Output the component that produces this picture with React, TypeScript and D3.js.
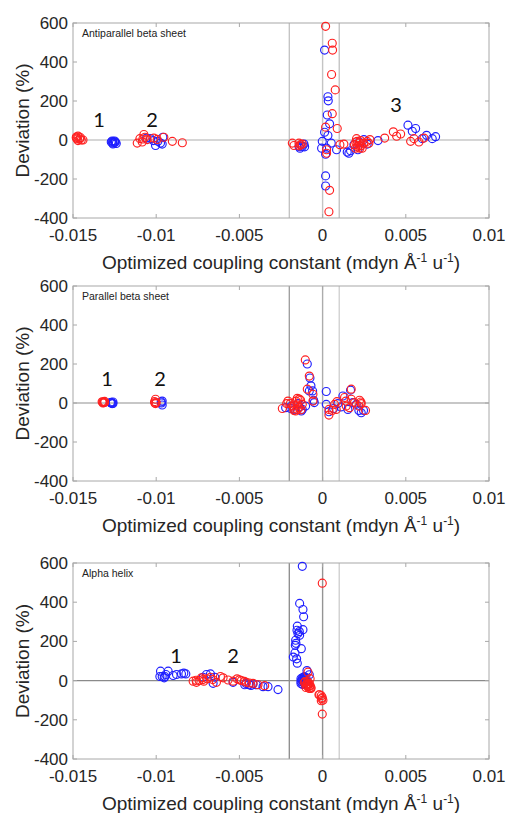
import * as d3 from "d3";

// Optimized coupling constant vs. deviation, three secondary structures
type Pt = [number, number];

const X_TICKS = [-0.015, -0.01, -0.005, 0, 0.005, 0.01];
const X_TICK_LABELS = ["-0.015", "-0.01", "-0.005", "0", "0.005", "0.01"];
const Y_TICKS = [-400, -200, 0, 200, 400, 600];
const REF_LINES = [-0.002, 0, 0.001];

const TITLES = ["Antiparallel beta sheet", "Parallel beta sheet", "Alpha helix"];

// cluster labels [x, y, text] in data units
const antiLabels: [number, number, string][] = [
  [-0.01344, 103, "1"], [-0.01025, 103, "2"], [0.00441, 179, "3"],
];
const parLabels: [number, number, string][] = [
  [-0.01296, 123, "1"], [-0.00977, 123, "2"],
];
const helixLabels: [number, number, string][] = [
  [-0.00881, 126, "1"], [-0.00538, 126, "2"],
];

const antiRed: Pt[] = [
  [-0.0148, 10], [-0.0147, 20], [-0.0146, 5], [-0.0145, 0], [-0.0144, 0], [-0.0147, -3], [-0.0148, 15],
  [-0.01475, 5], [-0.01455, 12],
  [-0.01114, -16], [-0.01098, 7], [-0.01074, 28], [-0.01068, 14], [-0.01054, 2], [-0.01014, 10],
  [-0.00994, 3], [-0.00954, 14], [-0.00903, -7], [-0.00843, -14], [-0.01084, -10], [-0.0108, 5],
  [-0.00182, -16], [-0.00172, -28], [-0.00142, -16], [-0.00132, -24], [-0.00122, -21], [-0.0014, -30],
  [0.00018, 583], [0.00058, 496], [0.0006, 461], [0.00054, 336], [0.00076, 257], [0.00058, 135],
  [0.00018, 66], [0.00088, 59], [0.00042, -258], [0.00038, -368], [0.00024, -50], [0.00024, -68],
  [0.00104, -24], [0.00128, -21], [0.00198, -42], [0.00208, -7], [0.00218, -28], [0.00228, -3],
  [0.00238, -42], [0.00248, -16], [0.00268, -7], [0.00284, 2], [0.00278, -17], [0.00204, 7],
  [0.00224, -42], [0.00192, -24], [0.0021, -35], [0.0022, -15], [0.0023, -30], [0.0020, -10],
  [0.00373, 10], [0.00425, 42], [0.00445, 19], [0.00469, 31], [0.00529, -7], [0.00549, 7],
  [0.00579, -10], [0.00609, 10],
];
const antiBlue: Pt[] = [
  [-0.0127, -10], [-0.0126, -15], [-0.0125, -5], [-0.0124, -18], [-0.0126, -20], [-0.0125, -12],
  [-0.01265, -5], [-0.01245, -10], [-0.0126, -8],
  [-0.01058, 10], [-0.01034, 7], [-0.01004, -28], [-0.00974, -16], [-0.0096, 14], [-0.00964, -21],
  [-0.0099, -7], [-0.01018, -3],
  [-0.00136, -42], [-0.00122, -33], [-0.00108, -35], [-0.00112, -21], [-0.00142, -33],
  [0.00012, 461], [0.00032, 222], [0.00034, 201], [0.00028, 128], [0.00042, 83], [0.00012, 40],
  [0.00032, 23], [-0.00002, -7], [-0.00006, -42], [0.00018, -73], [0.00018, -184], [0.00018, -236],
  [0.00052, -16], [0.00024, -42],
  [0.00084, -50], [0.00148, -62], [0.00168, -55], [0.00188, -24], [0.00212, -50], [0.00248, 2],
  [0.00268, -21], [0.00333, -3], [0.00158, -68], [0.0022, -10],
  [0.00513, 76], [0.00539, 45], [0.00559, 59], [0.00625, 24], [0.00659, 7], [0.00679, 17], [0.00599, 7],
];

const parRed: Pt[] = [
  [-0.0132, 5], [-0.0131, 3], [-0.0132, 0], [-0.0131, 8], [-0.01315, 2], [-0.01325, 6],
  [-0.01004, 19], [-0.01004, -3], [-0.0101, 7], [-0.01, 2], [-0.01008, 0],
  [-0.00242, -28], [-0.00216, -3], [-0.00208, 10], [-0.00172, -28], [-0.00152, 24], [-0.00142, -24],
  [-0.00132, 14], [-0.00122, -7], [-0.00172, -38], [-0.00162, -41], [-0.00152, -33], [-0.00104, 221],
  [-0.0008, 138], [-0.00092, 71], [-0.00058, 45], [-0.00058, 10], [-0.00194, -3],
  [-0.0016, 10], [-0.0014, 20], [-0.0018, -15], [-0.0015, -10], [-0.0013, -35],
  [0.00038, -33], [0.00038, -62], [0.00072, -7], [0.00086, 7], [0.00132, 28], [0.00142, -16],
  [0.00172, 71], [0.00172, 19], [0.00192, 2], [0.00222, 14], [0.00232, -3], [0.00258, -38],
  [0.00218, -16], [0.00162, -24], [0.00082, -33], [0.00058, -38], [0.0014, 10], [0.0023, 5],
];
const parBlue: Pt[] = [
  [-0.0127, 0], [-0.0126, -2], [-0.0127, 3], [-0.0126, 5], [-0.01265, -3], [-0.01275, 2],
  [-0.00964, 10], [-0.00964, -10], [-0.00968, 0], [-0.0097, 5],
  [-0.00222, -24], [-0.00192, -28], [-0.00092, 200], [-0.00076, 128], [-0.0007, 88], [-0.0006, 62],
  [-0.0008, 62], [-0.0005, 2], [-0.00054, 14], [-0.00128, -41], [-0.00148, -3], [-0.00122, -33],
  [-0.00188, -16], [-0.00102, -16], [-0.0017, -35], [-0.0014, -20],
  [0.00022, 59], [0.00022, -7], [0.00038, -45], [0.00066, -28], [0.00092, -3], [0.00122, 36],
  [0.00168, 66], [0.00152, -33], [0.00202, -7], [0.00218, -38], [0.00232, -50], [0.00246, -38],
  [0.00182, 2], [0.0011, -20],
];

const helixRed: Pt[] = [
  [-0.00778, -3], [-0.00758, -9], [-0.00742, 0], [-0.00728, 14], [-0.00714, -3], [-0.00694, 9],
  [-0.00674, 17], [-0.00638, -9], [-0.00614, 21], [-0.00598, 14], [-0.00568, 3], [-0.00514, 9],
  [-0.00488, 0], [-0.00458, -9], [-0.00418, -14], [-0.00388, -21], [-0.00348, -26], [-0.00538, -3],
  [-0.0076, 2], [-0.0072, 5], [-0.0066, 5], [-0.005, 4], [-0.0047, -4], [-0.0044, -12],
  [-0.0011, -10], [-0.001, -20], [-0.0009, -30], [-0.0008, -40], [-0.0007, -35], [-0.0009, -5],
  [-0.001, -35], [-0.0008, -15], [-0.00075, 10], [-0.00088, 43], [-0.00095, -25], [-0.00085, -20],
  [-0.0008, -30], [-0.0009, -15], [-0.00105, -5], [-0.00075, -25], [-0.0007, -40],
  [-0.00022, -72], [-0.00008, -77], [-0.00002, -86], [0.00002, -100], [-0.00008, -103],
  [-0.00002, 497], [-0.00002, -171], [-0.00018, -72], [-0.00005, -92],
];
const helixBlue: Pt[] = [
  [-0.00974, 48], [-0.00964, 21], [-0.00948, 21], [-0.00928, 48], [-0.00942, 31], [-0.00898, 26],
  [-0.00878, 31], [-0.00848, 34], [-0.00834, 38], [-0.00822, 34], [-0.00978, 21], [-0.00952, 14],
  [-0.00698, 31], [-0.00674, 34], [-0.00648, 17], [-0.00658, -14], [-0.00538, -9], [-0.00468, -21],
  [-0.00442, -21], [-0.00398, -21], [-0.00358, -31], [-0.00328, -31], [-0.00268, -46], [-0.00718, 17],
  [-0.00418, -17], [-0.0046, -15], [-0.0043, -25],
  [-0.00122, 583], [-0.00138, 394], [-0.00118, 363], [-0.00114, 326], [-0.00118, 260], [-0.00154, 257],
  [-0.00138, 231], [-0.00162, 206], [-0.00164, 180], [-0.00128, 163], [-0.00166, 141], [-0.00176, 120],
  [-0.00156, 111], [-0.00152, 89], [-0.00148, 240], [-0.00152, 278], [-0.0014, 250], [-0.0016, 190],
  [-0.0012, 0], [-0.0011, 10], [-0.00115, -10], [-0.0013, -5], [-0.001, 15], [-0.0012, -20],
  [-0.00105, 5], [-0.0011, -15], [-0.0013, 10], [-0.00094, 51], [-0.0008, 30], [-0.00125, 5],
  [-0.0012, 15], [-0.0013, -15], [-0.00105, -5], [-0.0011, 20],
];

const LEFT = 73;
const RIGHT = 489;

const PANELS = [
  { top: 23, h: 195, title: TITLES[0], red: antiRed, blue: antiBlue, labels: antiLabels,
    refColors: ["#c4c4c4", "#c4c4c4", "#c4c4c4"], zeroColor: "#c8c8c8" },
  { top: 286, h: 195, title: TITLES[1], red: parRed, blue: parBlue, labels: parLabels,
    refColors: ["#a0a0a0", "#acacac", "#d2d2d2"], zeroColor: "#b4b4b4" },
  { top: 563, h: 196, title: TITLES[2], red: helixRed, blue: helixBlue, labels: helixLabels,
    refColors: ["#909090", "#949494", "#d0d0d0"], zeroColor: "#8a8a8a" },
];

const AXIS_FONT = "'Liberation Sans', Arial, sans-serif";

function Panel({ p }: { p: typeof PANELS[number] }) {
  const x = d3.scaleLinear().domain([-0.015, 0.01]).range([LEFT, RIGHT]);
  const y = d3.scaleLinear().domain([-400, 600]).range([p.top + p.h, p.top]);
  const bottom = p.top + p.h;

  return (
    <g>
      {/* reference lines */}
      {REF_LINES.map((v, i) => (
        <line key={"v" + i} x1={x(v)} x2={x(v)} y1={p.top} y2={bottom}
          stroke={p.refColors[i]} strokeWidth={1.4} />
      ))}
      <line x1={LEFT} x2={RIGHT} y1={y(0)} y2={y(0)} stroke={p.zeroColor} strokeWidth={1.4} />

      {/* box */}
      <rect x={LEFT} y={p.top} width={RIGHT - LEFT} height={p.h} fill="none" stroke="#a8a8a8" strokeWidth={1} />
      {X_TICKS.map((t, i) => (
        <g key={"xt" + i}>
          <line x1={x(t)} x2={x(t)} y1={bottom} y2={bottom - 4} stroke="#a8a8a8" />
          <line x1={x(t)} x2={x(t)} y1={p.top} y2={p.top + 4} stroke="#a8a8a8" />
          <text x={x(t)} y={bottom + 23} textAnchor="middle" fontSize={17}
            fontFamily={AXIS_FONT} fill="#262626">{X_TICK_LABELS[i]}</text>
        </g>
      ))}
      {Y_TICKS.map((t, i) => (
        <g key={"yt" + i}>
          <line x1={LEFT} x2={LEFT + 4} y1={y(t)} y2={y(t)} stroke="#a8a8a8" />
          <line x1={RIGHT} x2={RIGHT - 4} y1={y(t)} y2={y(t)} stroke="#a8a8a8" />
          <text x={68} y={y(t) + 6} textAnchor="end" fontSize={17}
            fontFamily={AXIS_FONT} fill="#262626">{t}</text>
        </g>
      ))}

      {/* points */}
      {p.blue.map((d, i) => (
        <circle key={"b" + i} cx={x(d[0])} cy={y(d[1])} r={4} fill="none" stroke="#1f1fff" strokeWidth={1.15} />
      ))}
      {p.red.map((d, i) => (
        <circle key={"r" + i} cx={x(d[0])} cy={y(d[1])} r={4} fill="none" stroke="#ff2020" strokeWidth={1.15} />
      ))}

      {/* annotations */}
      <text x={82} y={p.top + 14} fontSize={10.5} fontFamily={AXIS_FONT} fill="#222">{p.title}</text>
      {p.labels.map((l, i) => (
        <text key={"l" + i} x={x(l[0])} y={y(l[1]) + 7} textAnchor="middle" fontSize={20}
          fontFamily="Lato, 'Open Sans', sans-serif" fill="#111">{l[2]}</text>
      ))}

      {/* axis titles */}
      <text transform={`translate(29,${p.top + p.h / 2}) rotate(-90)`} textAnchor="middle"
        fontSize={19} fontFamily={AXIS_FONT} fill="#262626">Deviation (%)</text>
      <text x={(LEFT + RIGHT) / 2} y={bottom + 51} textAnchor="middle" fontSize={19}
        fontFamily={AXIS_FONT} fill="#262626">
        Optimized coupling constant (mdyn Å
        <tspan dy={-7} fontSize={12}>-1</tspan>
        <tspan dy={7}> u</tspan>
        <tspan dy={-7} fontSize={12}>-1</tspan>
        <tspan dy={7}>)</tspan>
      </text>
    </g>
  );
}

export default function App() {
  return (
    <div style={{ position: "absolute", left: 0, top: 0 }}>
      <svg width={507} height={813} style={{ display: "block", background: "#fff" }}>
        {PANELS.map((p, i) => (
          <Panel key={i} p={p} />
        ))}
      </svg>
    </div>
  );
}
